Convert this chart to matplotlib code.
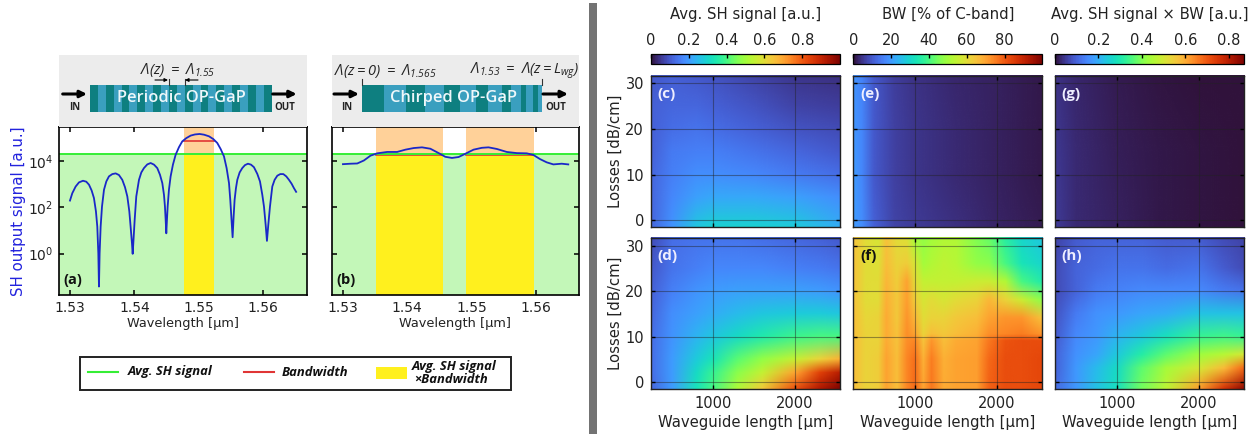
import matplotlib
matplotlib.use("Agg")
import numpy as np
import matplotlib.pyplot as plt
from matplotlib.patches import Rectangle
from matplotlib.lines import Line2D
from matplotlib.colors import Normalize
from matplotlib.cm import ScalarMappable
from matplotlib.image import NonUniformImage

plt.rcParams['mathtext.fontset'] = 'custom'
plt.rcParams['mathtext.rm'] = 'Open Sans:italic'
plt.rcParams['mathtext.it'] = 'Open Sans:italic'
plt.rcParams['mathtext.bf'] = 'Open Sans:bold'

# spectra, log10 of the SH signal
wl_a = [1.53000, 1.53036, 1.53088, 1.53140, 1.53202, 1.53253, 1.53295, 1.53336, 1.53372, 1.53403,
        1.53424, 1.53440, 1.53450, 1.53460, 1.53476, 1.53497, 1.53528, 1.53564, 1.53605, 1.53657,
        1.53709, 1.53760, 1.53812, 1.53854, 1.53890, 1.53921, 1.53941, 1.53962, 1.53973, 1.53983,
        1.54004, 1.54029, 1.54071, 1.54107, 1.54148, 1.54200, 1.54252, 1.54304, 1.54355, 1.54397,
        1.54433, 1.54459, 1.54474, 1.54485, 1.54495, 1.54505, 1.54516, 1.54536, 1.54562, 1.54598,
        1.54640, 1.54692, 1.54743, 1.54805, 1.54873, 1.54940, 1.55012, 1.55080, 1.55157, 1.55224,
        1.55286, 1.55338, 1.55390, 1.55431, 1.55468, 1.55488, 1.55504, 1.55524, 1.55540, 1.55555,
        1.55576, 1.55597, 1.55633, 1.55674, 1.55716, 1.55762, 1.55809, 1.55855, 1.55907, 1.55949,
        1.55985, 1.56011, 1.56037, 1.56057, 1.56078, 1.56104, 1.56125, 1.56140, 1.56176, 1.56218,
        1.56264, 1.56311, 1.56357, 1.56399, 1.56440, 1.56476, 1.56510]
log_a = [2.30, 2.62, 2.91, 3.09, 3.16, 3.12, 2.99, 2.74, 2.41, 1.83,
         1.17, 0.01, -1.43, 0.01, 1.17, 2.04, 2.77, 3.13, 3.35, 3.45,
         3.48, 3.41, 3.20, 2.88, 2.48, 1.83, 1.17, 0.45, -0.01, 0.45,
         1.46, 2.48, 3.20, 3.52, 3.71, 3.87, 3.93, 3.86, 3.71, 3.42,
         3.06, 2.55, 2.04, 1.46, 0.88, 1.46, 2.04, 2.77, 3.35, 3.86,
         4.29, 4.62, 4.87, 5.01, 5.12, 5.17, 5.19, 5.16, 5.09, 4.97,
         4.80, 4.54, 4.22, 3.71, 3.06, 2.33, 1.61, 0.71, 1.61, 2.33,
         2.84, 3.20, 3.52, 3.71, 3.84, 3.90, 3.86, 3.75, 3.46, 3.13,
         2.55, 2.04, 1.25, 0.55, 1.25, 2.04, 2.55, 2.91, 3.20, 3.38,
         3.45, 3.45, 3.35, 3.20, 3.03, 2.84, 2.68]
wl_b = [1.5300, 1.53119, 1.53222, 1.53326, 1.53429, 1.53533, 1.53688, 1.53843, 1.53973, 1.54102,
        1.54231, 1.54361, 1.5449, 1.54593, 1.54697, 1.548, 1.54904, 1.55033, 1.55162, 1.55266,
        1.55395, 1.5555, 1.55706, 1.55861, 1.55964, 1.56068, 1.56171, 1.56275, 1.56404, 1.56507]
log_b = [3.88, 3.90, 3.91, 4.04, 4.25, 4.35, 4.41, 4.41, 4.51, 4.58,
         4.61, 4.55, 4.36, 4.20, 4.15, 4.19, 4.33, 4.51, 4.59, 4.61,
         4.54, 4.41, 4.36, 4.35, 4.28, 4.10, 3.96, 3.87, 3.90, 3.87]
avg_log = [4.33, 4.33]
bw_log = [4.87, 4.29]
bands_a = [(1.54769, 1.55235)]
bands_b = [(1.53507, 1.54557), (1.54914, 1.5597)]
wl_ticks = [1.53, 1.54, 1.55, 1.56]
sig_ticks = [1, 100, 10000]

# maps (rows: losses, columns: waveguide length)
len_c = [250, 500, 800, 1000, 1500, 2000, 2550]
loss_c = [-1.6, 5, 10, 15, 20, 25, 31.7]
map_c = [[.12, .19, .27, .29, .29, .28, .23],
         [.12, .17, .21, .22, .22, .21, .18],
         [.12, .16, .18, .18, .17, .15, .13],
         [.11, .15, .16, .16, .14, .12, .10],
         [.11, .13, .14, .13, .11, .09, .08],
         [.11, .12, .12, .11, .09, .07, .06],
         [.10, .11, .10, .09, .07, .05, .04]]
len_e = [250, 350, 500, 750, 1000, 1500, 2000, 2550]
loss_e = [-1.6, 10, 20, 31.7]
map_e = [[20, 18, 11, 7, 5.5, 4, 2.5, 1.5],
         [20, 17, 10, 6.5, 5, 3.5, 2, 1],
         [19.5, 17, 10, 6.5, 5, 3.5, 2, 1],
         [19, 16.5, 10, 6, 4.5, 3, 2, 1]]
len_g = [250, 500, 1000, 1500, 2000, 2550]
loss_g = [-1.6, 15, 31.7]
map_g = [[.05, .03, .018, .01, .006, .003],
         [.045, .028, .015, .008, .005, .002],
         [.04, .025, .012, .006, .003, .002]]
len_d = [250, 500, 800, 1000, 1300, 1600, 2000, 2300, 2550]
loss_d = [-1.6, 2, 5, 10, 15, 20, 25, 31.7]
map_d = [[.12, .20, .33, .40, .52, .64, .82, .93, 1.0],
         [.13, .20, .31, .38, .47, .55, .70, .84, .92],
         [.13, .20, .28, .33, .42, .48, .55, .62, .68],
         [.13, .19, .24, .27, .31, .35, .39, .40, .40],
         [.12, .18, .21, .23, .25, .27, .28, .28, .27],
         [.11, .16, .19, .20, .21, .21, .21, .20, .19],
         [.10, .14, .16, .17, .17, .17, .16, .15, .14],
         [.08, .13, .14, .14, .14, .13, .12, .11, .10]]
len_f = [250, 400, 550, 650, 780, 900, 1000, 1100, 1200, 1350, 1500, 1750, 1900, 2100, 2300, 2550]
loss_f = [-1.6, 5, 9, 10.5, 14, 18, 22, 26, 31.7]
map_f = [[66, 62, 63, 70, 66, 74, 78, 70, 76, 69, 70, 71, 79, 82, 82, 83],
         [66, 62, 63, 70, 66, 74, 77, 68, 75, 68, 70, 71, 78, 82, 82, 83],
         [66, 62, 62, 69, 65, 73, 74, 65, 72, 66, 69, 70, 76, 81, 82, 82],
         [66, 62, 62, 69, 65, 73, 70, 62, 66, 64, 66, 68, 73, 74, 75, 72],
         [66, 61, 62, 69, 64, 72, 67, 60, 62, 62, 64, 66, 70, 72, 72, 65],
         [65, 60, 60, 68, 64, 71, 63, 58, 60, 58, 60, 62, 67, 62, 56, 47],
         [65, 60, 60, 67, 63, 70, 60, 55, 55, 55, 55, 56, 56, 52, 40, 35],
         [65, 60, 59, 66, 62, 63, 58, 50, 52, 54, 53, 48, 47, 40, 33, 30],
         [65, 60, 58, 65, 60, 59, 50, 48, 50, 52, 52, 46, 43, 36, 30, 27]]
len_h = [250, 500, 750, 1000, 1300, 1600, 2000, 2300, 2550]
loss_h = [-1.6, 3, 6, 10, 15, 20, 25, 31.7]
map_h = [[.11, .17, .23, .28, .39, .47, .62, .76, .85],
         [.10, .17, .22, .27, .37, .44, .50, .58, .68],
         [.10, .16, .19, .24, .31, .37, .43, .46, .50],
         [.09, .15, .17, .21, .24, .28, .33, .34, .33],
         [.08, .13, .16, .17, .19, .20, .23, .23, .23],
         [.07, .10, .13, .14, .15, .15, .15, .13, .12],
         [.07, .10, .11, .12, .12, .11, .12, .09, .07],
         [.06, .09, .10, .10, .10, .09, .09, .07, .06]]

W, H = 1260, 434
TXT = '#222222'
LGREEN, ORANGE, YELLOW = '#c3f7b8', '#ffd199', '#fff01e'
GREEN, RED, BLUE = '#35ee35', '#e03535', '#1a28c8'
TEAL, LTEAL = '#0e7f80', '#3a9fbf'

fig = plt.figure(figsize=(W / 100, H / 100), dpi=100)


def px_axes(x0, y0, x1, y1):
    return fig.add_axes([x0 / W, 1 - y1 / H, (x1 - x0) / W, (y1 - y0) / H])


def spectrum(box, wl, logs, bands, avg, bw, label):
    ax = px_axes(*box)
    ymin, ymax = 10 ** -1.797, 10 ** 5.493
    avg = 10 ** avg
    ax.set_yscale('log')
    ax.set_xlim(1.52825, 1.56674)
    ax.set_ylim(ymin, ymax)
    ax.axhspan(ymin, avg, color=LGREEN, lw=0, zorder=1)
    for b0, b1 in bands:
        ax.axvspan(b0, b1, ymax=(np.log10(avg) + 1.797) / 7.29, color=YELLOW, lw=0, zorder=2)
        ax.axvspan(b0, b1, ymin=(np.log10(avg) + 1.797) / 7.29, color=ORANGE, lw=0, zorder=2)
        ax.plot([b0, b1], [10 ** bw, 10 ** bw], color=RED, lw=1.2, zorder=3)
    ax.axhline(avg, color=GREEN, lw=1.4, zorder=4)
    ax.plot(wl, 10 ** np.array(logs), color=BLUE, lw=1.3, zorder=5)
    ax.set_xticks(wl_ticks)
    ax.set_xticklabels([f'{t:.2f}' for t in wl_ticks])
    ax.set_yticks(sig_ticks)
    ax.minorticks_off()
    ax.tick_params(direction='in', top=True, right=True, length=3.5, width=1.1,
                   labelsize=10, labelcolor=TXT, pad=4)
    ax.set_xlabel('Wavelength [µm]', fontsize=9.3, color=TXT, labelpad=2)
    for s in ax.spines.values():
        s.set_linewidth(1.2)
        s.set_zorder(6)
    ax.text(0.02, 0.05, label, transform=ax.transAxes, fontsize=10.5, fontweight='bold',
            family='Open Sans', color='#111111', va='bottom', zorder=7)
    return ax


ax_a = spectrum((58.7, 127, 306.7, 295), wl_a, log_a, bands_a, avg_log[0], bw_log[0], '(a)')
ax_b = spectrum((331.7, 127, 579, 295), wl_b, log_b, bands_b, avg_log[1], bw_log[1], '(b)')
ax_b.set_yticklabels([])
ax_a.set_ylabel('SH output signal [a.u.]', fontsize=10.8, color='#2222dd', labelpad=1)


def heat(box, x, y, z, vmax, label, color, xlab, ylab):
    ax = px_axes(*box)
    im = NonUniformImage(ax, interpolation='bilinear', cmap='turbo', norm=Normalize(0, vmax),
                         extent=(250, 2550, -1.5, 31.6))
    im.set_data(x, y, np.array(z, dtype=float))
    ax.add_image(im)
    ax.set_xlim(250, 2550)
    ax.set_ylim(-1.5, 31.6)
    ax.set_xticks([1000, 2000])
    ax.set_yticks([0, 10, 20, 30])
    ax.grid(True, color='#222222', lw=0.8, alpha=0.45)
    ax.tick_params(direction='in', top=True, right=True, length=3, width=1,
                   labelbottom=xlab, labelleft=ylab, labelsize=10.5, labelcolor=TXT, pad=5)
    if xlab:
        ax.set_xlabel('Waveguide length [µm]', fontsize=10.7, color=TXT, labelpad=3)
    if ylab:
        ax.set_ylabel('Losses [dB/cm]', fontsize=10.7, color=TXT, labelpad=2)
    for s in ax.spines.values():
        s.set_linewidth(1)
        s.set_color('#222222')
    ax.text(0.035, 0.93, label, transform=ax.transAxes, fontsize=11, fontweight='bold',
            family='Open Sans', color=color, va='top')
    return ax


col_x = [(651, 840), (853.3, 1042.3), (1055, 1244)]
top_row, bot_row = (76, 227), (238.3, 389)
heat((col_x[0][0], top_row[0], col_x[0][1], top_row[1]), len_c, loss_c, map_c, 1, '(c)', '#eeeeff', False, True)
heat((col_x[0][0], bot_row[0], col_x[0][1], bot_row[1]), len_d, loss_d, map_d, 1, '(d)', '#eeeeff', True, True)
heat((col_x[1][0], top_row[0], col_x[1][1], top_row[1]), len_e, loss_e, map_e, 100, '(e)', '#eeeeff', False, False)
heat((col_x[1][0], bot_row[0], col_x[1][1], bot_row[1]), len_f, loss_f, map_f, 100, '(f)', '#111111', True, False)
heat((col_x[2][0], top_row[0], col_x[2][1], top_row[1]), len_g, loss_g, map_g, 0.87, '(g)', '#eeeeff', False, False)
heat((col_x[2][0], bot_row[0], col_x[2][1], bot_row[1]), len_h, loss_h, map_h, 0.87, '(h)', '#eeeeff', True, False)

cb_spec = [(1, [0, .2, .4, .6, .8], ['0', '0.2', '0.4', '0.6', '0.8'], 'Avg. SH signal [a.u.]'),
           (100, [0, 20, 40, 60, 80], ['0', '20', '40', '60', '80'], 'BW [% of C-band]'),
           (0.87, [0, .2, .4, .6, .8], ['0', '0.2', '0.4', '0.6', '0.8'], 'Avg. SH signal × BW [a.u.]')]
for (x0, x1), (vmax, ticks, labels, title) in zip(col_x, cb_spec):
    cax = px_axes(x0, 54, x1, 64)
    cb = fig.colorbar(ScalarMappable(Normalize(0, vmax), 'turbo'), cax=cax, orientation='horizontal',
                      ticklocation='top')
    cb.set_ticks(ticks)
    cb.set_ticklabels(labels)
    cax.tick_params(direction='in', length=3, width=1, labelsize=10.5, labelcolor=TXT, pad=4)
    cb.outline.set_linewidth(0.9)
    fig.text((x0 + x1) / 2 / W, 1 - 14.5 / H, title, ha='center', va='center', fontsize=10.7, color=TXT)

# schematics, legend and divider drawn in pixel coordinates
ov = fig.add_axes([0, 0, 1, 1], zorder=10)
ov.set_xlim(0, W)
ov.set_ylim(H, 0)
ov.axis('off')


def rect(x0, y0, x1, y1, **kw):
    ov.add_patch(Rectangle((x0, y0), x1 - x0, y1 - y0, lw=kw.pop('lw', 0), **kw))


def arrow(x0, x1, y, lw=2.2, ms=10):
    ov.annotate('', xy=(x1, y), xytext=(x0, y),
                arrowprops=dict(arrowstyle='-|>', lw=lw, color='black', mutation_scale=ms,
                                shrinkA=0, shrinkB=0))


def chip(gx0, gx1, bx0, bx1, stripes, name, ain, aout):
    rect(gx0, 55, gx1, 127, color='#ececec', zorder=0)
    rect(bx0, 85, bx1, 112, color=LTEAL)
    for s0, s1 in stripes:
        rect(s0, 85, s1, 112, color=TEAL)
    ov.text((bx0 + bx1) / 2 + 1, 98.5, name, color='#eef7fa', fontsize=11.8, family='Open Sans',
            fontweight='semibold', ha='center', va='center')
    arrow(ain[0], ain[1], 94)
    arrow(aout[0], aout[1], 94)
    ov.text((ain[0] + ain[1]) / 2, 108, 'IN', fontsize=7, fontweight='bold', family='Open Sans',
            color=TXT, ha='center', va='center')
    ov.text((aout[0] + aout[1]) / 2, 108, 'OUT', fontsize=7, fontweight='bold', family='Open Sans',
            color=TXT, ha='center', va='center')


stripes_a = [(90 + 15.8 * i, 97.7 + 15.8 * i) for i in range(12)]
stripes_b = [(361.7, 384), (406, 425), (444, 460), (475.7, 488.3), (501.7, 510.7), (520.7, 526), (533.3, 537.7)]
chip(59, 307, 90, 271, stripes_a, 'Periodic OP-GaP', (62.7, 87), (272.7, 296.7))
chip(332, 579, 361.7, 542.3, stripes_b, 'Chirped OP-GaP', (334, 359), (543, 568))

ov.text(178, 70, r'$\Lambda(z)\ =\ \Lambda_{1.55}$', fontsize=10.5, color=TXT, ha='center', va='center')
ov.text(334, 71, r'$\Lambda(z{=}0)\ =\ \Lambda_{1.565}$', fontsize=10.5, color=TXT, ha='left', va='center')
ov.text(579, 71, r'$\Lambda_{1.53}\ =\ \Lambda(z{=}L_{wg})$', fontsize=10.5, color=TXT, ha='right', va='center')
arrow(155, 168, 80, lw=0.8, ms=5)
arrow(198, 185, 80, lw=0.8, ms=5)
for x, y0 in [(169, 79), (185, 79), (361.7, 79), (542, 79)]:
    ov.add_line(Line2D([x, x], [y0, 85], color='#333333', lw=0.8))

rect(80, 356.7, 510.7, 390, fc='white', ec='#222222', lw=1.4)
ov.add_line(Line2D([88, 118], [372.3, 372.3], color=GREEN, lw=1.5))
ov.add_line(Line2D([244, 274], [372.3, 372.3], color=RED, lw=1.5))
rect(376, 366.7, 407, 379, color=YELLOW)
leg_kw = dict(fontsize=9.4, fontweight='bold', style='italic', family='Open Sans', color='#111111', va='center')
ov.text(127.5, 372, 'Avg. SH signal', **leg_kw)
ov.text(281.5, 373, 'Bandwidth', **leg_kw)
ov.text(412, 366.5, 'Avg. SH signal', **leg_kw)
ov.text(414, 379.5, '×Bandwidth', **leg_kw)

rect(589, 3, 597, H, color='#737373')

fig.savefig('out.png', dpi=100)
